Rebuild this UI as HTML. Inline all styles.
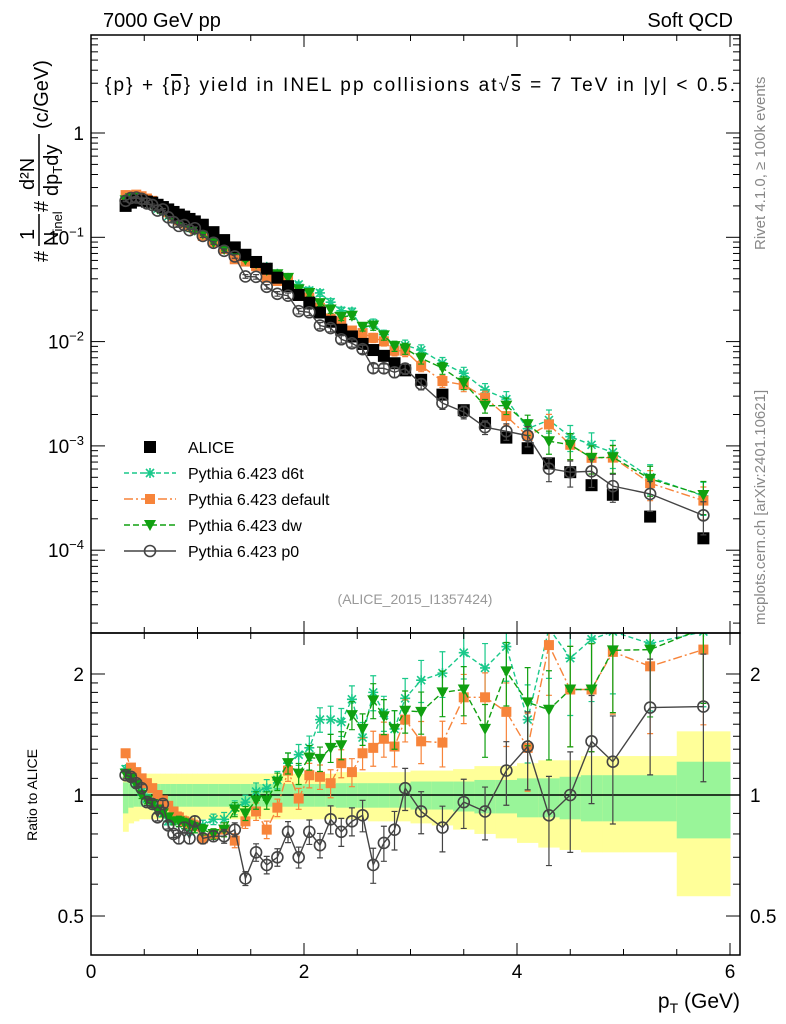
<!DOCTYPE html>
<html><head><meta charset="utf-8"><style>
body{margin:0;background:#fff;}
svg{display:block;font-family:"Liberation Sans",sans-serif;}
</style></head><body>
<svg id="c" width="786" height="1024" viewBox="0 0 786 1024">
<defs>
<clipPath id="cm"><rect x="91" y="35" width="649" height="598"/></clipPath>
<clipPath id="cr"><rect x="91" y="633" width="649" height="322"/></clipPath>
</defs>
<g id="bands" clip-path="url(#cr)"></g>
<line x1="91" y1="795" x2="740" y2="795" stroke="#000" stroke-width="1.5"/>
<g id="marksR" clip-path="url(#cr)"></g>
<g id="marksM" clip-path="url(#cm)"></g>
<rect x="91" y="35" width="649" height="598" fill="none" stroke="#000" stroke-width="1.5"/>
<rect x="91" y="633" width="649" height="322" fill="none" stroke="#000" stroke-width="1.5"/>
<g id="axes"></g>
<text x="103" y="27" font-size="20">7000 GeV pp</text>
<text x="733" y="27" font-size="20" text-anchor="end">Soft QCD</text>
<text x="105" y="91" font-size="19" textLength="630" lengthAdjust="spacing">{p} + {<tspan text-decoration="overline">p</tspan>} yield in INEL pp collisions at√<tspan text-decoration="overline">s</tspan> =  7 TeV in |y| &lt; 0.5.</text>
<g transform="translate(38,262) rotate(-90)" font-size="20">
<text x="0" y="10">#</text>
<text x="22" y="-4">1</text>
<line x1="16" y1="1" x2="48" y2="1" stroke="#000" stroke-width="1.5"/>
<text x="16" y="20">N<tspan font-size="13" dy="4">inel</tspan></text>
<text x="50" y="10">#</text>
<text x="72" y="-4">d²N</text>
<line x1="66" y1="1" x2="128" y2="1" stroke="#000" stroke-width="1.5"/>
<text x="66" y="20">dp<tspan font-size="13" dy="4">T</tspan><tspan dy="-4">dy</tspan></text>
<text x="133" y="10">(c/GeV)</text>
</g>
<text transform="translate(765,250) rotate(-90)" font-size="15" fill="#888">Rivet 4.1.0, ≥ 100k events</text>
<text transform="translate(765,625) rotate(-90)" font-size="15" fill="#888">mcplots.cern.ch [arXiv:2401.10621]</text>
<text x="415" y="604" font-size="14" fill="#999" text-anchor="middle">(ALICE_2015_I1357424)</text>
<text transform="translate(37,795) rotate(-90)" font-size="14" text-anchor="middle">Ratio to ALICE</text>
<text x="740" y="1008" font-size="21" text-anchor="end">p<tspan font-size="14" dy="5">T</tspan><tspan dy="-5"> (GeV)</tspan></text>
<g id="legend"></g>
</svg>
<script>
const pT=[0.325,0.375,0.425,0.475,0.525,0.575,0.625,0.675,0.725,0.775,0.825,0.875,0.925,0.975,1.05,1.15,1.25,1.35,1.45,1.55,1.65,1.75,1.85,1.95,2.05,2.15,2.25,2.35,2.45,2.55,2.65,2.75,2.85,2.95,3.1,3.3,3.5,3.7,3.9,4.1,4.3,4.5,4.7,4.9,5.25,5.75];
const halfW=[0.025,0.025,0.025,0.025,0.025,0.025,0.025,0.025,0.025,0.025,0.025,0.025,0.025,0.025,0.05,0.05,0.05,0.05,0.05,0.05,0.05,0.05,0.05,0.05,0.05,0.05,0.05,0.05,0.05,0.05,0.05,0.05,0.05,0.05,0.1,0.1,0.1,0.1,0.1,0.1,0.1,0.1,0.1,0.1,0.25,0.25];
const alice=[0.20,0.215,0.225,0.225,0.22,0.215,0.205,0.195,0.185,0.175,0.165,0.158,0.15,0.142,0.132,0.112,0.094,0.08,0.068,0.058,0.05,0.041,0.034,0.028,0.0236,0.019,0.0155,0.013,0.0112,0.0095,0.0083,0.0073,0.0062,0.0053,0.0043,0.0031,0.0022,0.00166,0.0012,0.00095,0.00068,0.00056,0.00042,0.00034,0.00021,0.00013];
const yellowHi=[1.16,1.15,1.14,1.13,1.13,1.13,1.13,1.13,1.13,1.13,1.13,1.13,1.13,1.13,1.13,1.13,1.13,1.13,1.13,1.13,1.13,1.13,1.13,1.13,1.13,1.13,1.13,1.14,1.14,1.14,1.14,1.14,1.14,1.14,1.15,1.15,1.16,1.18,1.18,1.2,1.22,1.22,1.25,1.25,1.25,1.44];
const yellowLo=[0.81,0.85,0.86,0.87,0.87,0.87,0.87,0.87,0.87,0.87,0.87,0.87,0.87,0.87,0.87,0.87,0.87,0.87,0.87,0.87,0.87,0.87,0.87,0.87,0.87,0.87,0.87,0.87,0.87,0.87,0.86,0.86,0.86,0.86,0.85,0.84,0.82,0.8,0.78,0.76,0.74,0.73,0.72,0.72,0.72,0.56];
const greenHi=[1.075,1.07,1.07,1.07,1.065,1.065,1.065,1.065,1.065,1.065,1.065,1.065,1.065,1.065,1.065,1.065,1.065,1.065,1.065,1.065,1.065,1.065,1.065,1.065,1.065,1.065,1.065,1.07,1.07,1.07,1.07,1.07,1.07,1.07,1.08,1.08,1.08,1.09,1.09,1.1,1.1,1.11,1.12,1.12,1.12,1.21];
const greenLo=[0.90,0.93,0.935,0.935,0.935,0.935,0.935,0.935,0.935,0.935,0.935,0.935,0.935,0.935,0.935,0.935,0.935,0.935,0.935,0.935,0.935,0.935,0.935,0.935,0.935,0.935,0.935,0.93,0.93,0.93,0.93,0.93,0.93,0.93,0.92,0.92,0.91,0.9,0.9,0.88,0.88,0.87,0.86,0.86,0.86,0.78];
const ratioD6t=[1.16,1.12,1.07,1.02,0.98,0.95,0.92,0.9,0.86,0.87,0.86,0.85,0.82,0.83,0.84,0.87,0.87,0.93,0.96,1.02,1.04,1.09,1.2,1.26,1.31,1.54,1.54,1.52,1.73,1.39,1.8,1.6,1.46,1.74,1.93,2.01,2.26,2.07,2.34,1.54,2.6,2.19,2.44,2.55,2.38,2.55];
const ratioDefault=[1.27,1.17,1.14,1.1,1.07,1.04,1.0,0.97,0.94,0.91,0.88,0.86,0.85,0.84,0.78,0.8,0.82,0.77,0.86,0.91,0.82,0.93,1.15,0.98,1.12,1.11,1.07,1.2,1.14,1.27,1.31,1.38,1.32,1.54,1.36,1.35,1.75,1.75,1.61,1.31,2.36,1.83,1.83,2.27,2.09,2.3];
const ratioDw=[1.13,1.1,1.06,1.0,0.97,0.95,0.92,0.9,0.88,0.86,0.86,0.85,0.84,0.83,0.82,0.8,0.82,0.92,0.9,0.97,0.97,1.08,1.2,1.13,1.24,1.23,1.31,1.33,1.58,1.46,1.72,1.57,1.46,1.62,1.61,1.8,1.83,1.46,2.03,1.7,1.63,1.83,1.83,2.29,2.3,2.6];
const ratioP0=[1.12,1.11,1.07,1.04,0.96,0.95,0.88,0.95,0.84,0.8,0.78,0.83,0.78,0.86,0.78,0.79,0.79,0.82,0.62,0.72,0.67,0.7,0.81,0.7,0.81,0.75,0.87,0.81,0.86,0.89,0.67,0.76,0.82,1.04,0.91,0.83,0.96,0.91,1.15,1.32,0.89,1.0,1.36,1.21,1.65,1.66];
const mcErr=[0.02,0.02,0.02,0.02,0.02,0.02,0.02,0.02,0.02,0.02,0.03,0.03,0.03,0.03,0.03,0.03,0.04,0.04,0.04,0.05,0.05,0.05,0.06,0.06,0.07,0.07,0.08,0.08,0.08,0.09,0.1,0.1,0.11,0.12,0.12,0.13,0.14,0.15,0.18,0.22,0.25,0.28,0.3,0.3,0.32,0.35];
const xTicks=[0,2,4,6];
const mainDecades=[0,-1,-2,-3,-4];
const ratioTicks=[0.5,1,2];

const NS="http://www.w3.org/2000/svg";
const X=v=>91+106.5*v;
const YM=v=>133-104.3*Math.log10(v);
const YR=r=>795-402*Math.log10(r);
function mk(parent,tag,attrs){const e=document.createElementNS(NS,tag);for(const k in attrs)e.setAttribute(k,attrs[k]);parent.appendChild(e);return e;}
const axes=document.getElementById('axes');

for(let v=0;v<=6.01;v+=0.5){
  const major=Math.abs(v-Math.round(v/2)*2)<1e-6;
  const L=major?12:6;
  [[633,-1],[35,1],[955,-1],[633,1]].forEach(([y,d])=>{const t=mk(axes,'line',{x1:X(v),x2:X(v),y1:y,y2:y+d*L,stroke:'#000','stroke-width':1});

});
}
xTicks.forEach(v=>{const t=mk(axes,'text',{x:X(v),y:978,'font-size':19,'text-anchor':'middle'});t.textContent=v;

});
for(let d=-5;d<=0;d++){for(let m=1;m<=9;m++){const v=m*Math.pow(10,d);const y=YM(v);if(y<35||y>633)continue;const L=m==1?14:7;
[[91,1],[740,-1]].forEach(([x,s])=>{const t=mk(axes,'line',{x1:x,x2:x+s*L,y1:y,y2:y,stroke:'#000','stroke-width':1});

});}}
mainDecades.forEach(d=>{const t=mk(axes,'text',{x:84,y:YM(Math.pow(10,d))+7,'font-size':19,'text-anchor':'end'});


if(d==0)t.textContent='1';else{t.textContent='10';const s=mk(t,'tspan',{dy:-8,'font-size':13});s.textContent=String(d).replace('-','−');}});
[0.5,0.6,0.7,0.8,0.9,1,1.1,1.2,1.3,1.4,1.5,1.6,1.7,1.8,1.9,2].forEach(r=>{const maj=ratioTicks.includes(r);const L=maj?14:7;const y=YR(r);
[[91,1],[740,-1]].forEach(([x,s])=>{const t=mk(axes,'line',{x1:x,x2:x+s*L,y1:y,y2:y,stroke:'#000','stroke-width':1});

});});
ratioTicks.forEach(r=>{[[84,'end'],[750,'start']].forEach(([x,a])=>{const t=mk(axes,'text',{x:x,y:YR(r)+7,'font-size':19,'text-anchor':a});t.textContent=r;

});});

const bands=document.getElementById('bands');
pT.forEach((p,i)=>{
  const x0=X(p-halfW[i]),x1=X(p+halfW[i]);
  const yb=mk(bands,'rect',{x:x0,y:YR(yellowHi[i]),width:x1-x0+0.5,height:YR(yellowLo[i])-YR(yellowHi[i]),fill:'#ffff99'});
  
  
  const gb=mk(bands,'rect',{x:x0,y:YR(greenHi[i]),width:x1-x0+0.5,height:YR(greenLo[i])-YR(greenHi[i]),fill:'#99f599'});
  
  
});

const series=[
 {name:'d6t',ratio:ratioD6t,color:'#19c98a',dash:'5,3',marker:'star',label:'Pythia 6.423 d6t'},
 {name:'default',ratio:ratioDefault,color:'#f7843a',dash:'9,3,2,3',marker:'square',label:'Pythia 6.423 default'},
 {name:'dw',ratio:ratioDw,color:'#10a010',dash:'6,3',marker:'tri',label:'Pythia 6.423 dw'},
 {name:'p0',ratio:ratioP0,color:'#444',dash:'',marker:'circle',label:'Pythia 6.423 p0'}
];
function marker(g,type,x,y,color){
  let e;
  if(type=='square')e=mk(g,'rect',{x:x-5,y:y-5,width:10,height:10,fill:color});
  else if(type=='bigsquare')e=mk(g,'rect',{x:x-6,y:y-6,width:12,height:12,fill:color});
  else if(type=='tri')e=mk(g,'path',{d:`M${x-6},${y-5}L${x+6},${y-5}L${x},${y+6}Z`,fill:color});
  else if(type=='circle')e=mk(g,'circle',{cx:x,cy:y,r:5.5,fill:'none',stroke:color,'stroke-width':1.6});
  else e=mk(g,'path',{d:`M${x-5},${y}L${x+5},${y}M${x},${y-5}L${x},${y+5}M${x-4},${y-4}L${x+4},${y+4}M${x-4},${y+4}L${x+4},${y-4}`,stroke:color,'stroke-width':1.6});
  return e;
}
const gM=document.getElementById('marksM'),gR=document.getElementById('marksR');
series.forEach(s=>{
  const vals=alice.map((a,i)=>a*s.ratio[i]);
  [[gM,vals.map(v=>YM(v)),vals.map((v,i)=>[YM(v*(1+mcErr[i])),YM(v*(1-mcErr[i]))])],[gR,s.ratio.map(YR),s.ratio.map((r,i)=>[YR(r*(1+mcErr[i])),YR(r*(1-mcErr[i]))])]].forEach(([g,ys,errs])=>{
    const grp=mk(g,'g',{});
    
    
    const ln=mk(grp,'polyline',{points:pT.map((p,i)=>X(p)+','+ys[i]).join(' '),fill:'none',stroke:s.color,'stroke-width':1.4,'stroke-dasharray':s.dash});
    
    
    pT.forEach((p,i)=>{
      const eb=mk(grp,'path',{d:`M${X(p)},${errs[i][0]}L${X(p)},${errs[i][1]}M${X(p)-3},${errs[i][0]}L${X(p)+3},${errs[i][0]}M${X(p)-3},${errs[i][1]}L${X(p)+3},${errs[i][1]}`,stroke:s.color,'stroke-width':1.2});
      
      
      const m=marker(grp,s.marker,X(p),ys[i],s.color);
      
      
    });
  });
});
const ga=mk(gM,'g',{});


pT.forEach((p,i)=>{const m=marker(ga,'bigsquare',X(p),YM(alice[i]),'#000');

});
gM.appendChild(gM.children[3]);

const lg=document.getElementById('legend');
const entries=[{label:'ALICE',marker:'bigsquare',color:'#000',dash:null}].concat(series);
entries.forEach((s,i)=>{
  const y=447+26*i;
  const g=mk(lg,'g',{});
  
  
  if(s.dash!==null&&s.dash!==undefined){mk(g,'line',{x1:124,x2:176,y1:y,y2:y,stroke:s.color,'stroke-width':1.4,'stroke-dasharray':s.dash});}
  marker(g,s.marker,150,y,s.color);
  const t=mk(g,'text',{x:188,y:y+6,'font-size':16});t.textContent=s.label;
});
</script>
</body></html>
